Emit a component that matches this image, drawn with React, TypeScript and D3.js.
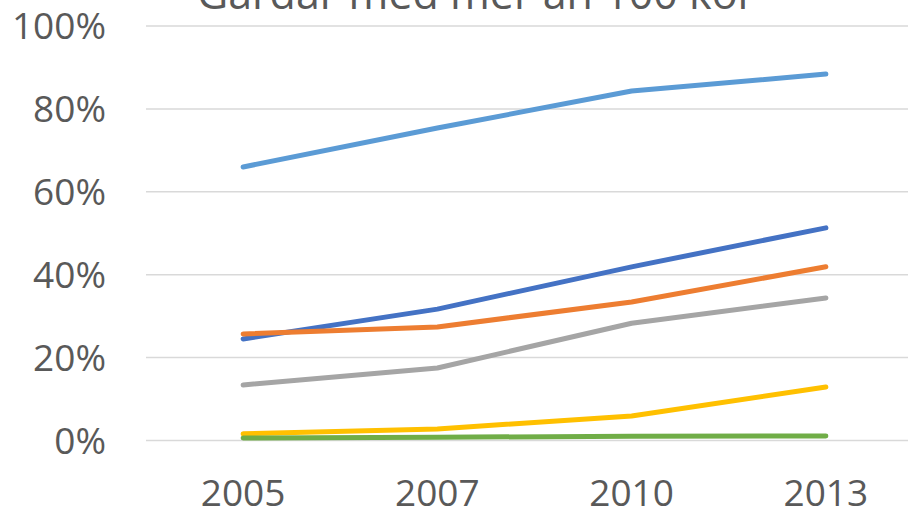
import React from 'react';
import * as d3 from 'd3';

const years = ['2005', '2007', '2010', '2013'];
const yTicks = [0, 20, 40, 60, 80, 100];
const title = 'Gårdar med mer än 100 kor';

const lightBlue = [66.0, 75.4, 84.3, 88.4];
const darkBlue = [24.5, 31.7, 41.9, 51.3];
const orange = [25.7, 27.4, 33.4, 41.9];
const gray = [13.4, 17.5, 28.3, 34.4];
const yellow = [1.6, 2.8, 5.9, 12.9];
const green = [0.6, 0.8, 1.0, 1.1];

const series = [
  {name: 'a', values: lightBlue, color: '#5B9BD5'},
  {name: 'b', values: darkBlue, color: '#4472C4'},
  {name: 'c', values: orange, color: '#ED7D31'},
  {name: 'd', values: gray, color: '#A5A5A5'},
  {name: 'e', values: yellow, color: '#FFC000'},
  {name: 'f', values: green, color: '#70AD47'},
];

export default function App() {
  const W = 908, H = 512;
  const left = 146, right = 923, top = 26, bottom = 440.5;

  const x = d3.scalePoint<string>().domain(years).range([left, right]).padding(0.5);
  const y = d3.scaleLinear().domain([0, 100]).range([bottom, top]);

  const line = d3.line<number>()
    .x((_, i) => x(years[i]) as number)
    .y(d => y(d));

  const font = "'Open Sans', sans-serif";

  return (
    <svg width={W} height={H} style={{position: 'absolute', left: 0, top: 0, background: '#fff'}}>
      <text x={476} y={9} textAnchor="middle" fontFamily={font} fontSize={43} fill="#595959">{title}</text>
      {yTicks.map(t => (
        <g key={t}>
          <line x1={left} x2={W} y1={y(t)} y2={y(t)} stroke="#d9d9d9" strokeWidth={1.5} />
          <text x={106} y={y(t)} dy="0.36em" textAnchor="end" fontFamily={font} fontSize={37} fill="#595959">{t}%</text>
        </g>
      ))}
      {years.map(yr => (
        <text key={yr} x={x(yr)} y={493} dy="0.36em" textAnchor="middle" fontFamily={font} fontSize={37} fill="#595959">{yr}</text>
      ))}
      {series.map(s => (
        <path key={s.name} d={line(s.values) || ''} fill="none" stroke={s.color} strokeWidth={5} strokeLinecap="round" strokeLinejoin="round" />
      ))}
    </svg>
  );
}
